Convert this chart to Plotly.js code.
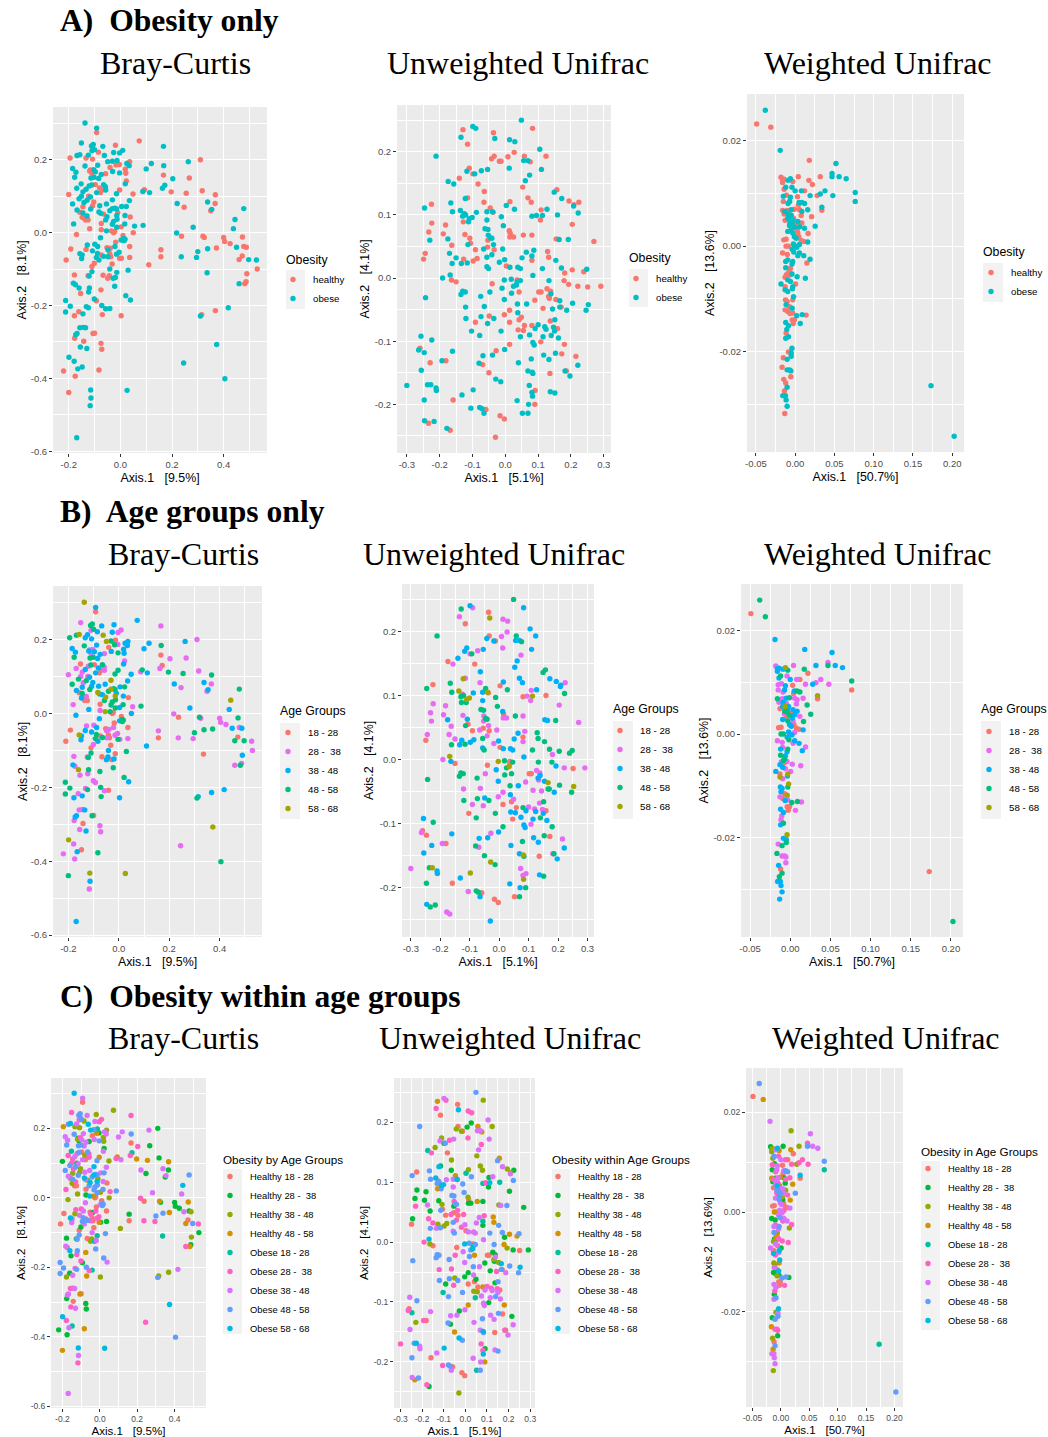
<!DOCTYPE html>
<html>
<head>
<meta charset="utf-8">
<script src="https://cdn.plot.ly/plotly-3.0.1.min.js"></script>
<style>html,body{margin:0;padding:0;background:#fff}#chart{width:1048px;height:1437px}</style>
</head>
<body>
<div id="chart"></div>
<script>
// Group codes: a-d = Healthy 18-28, 28-38, 38-48, 48-58; e-i = Obese 18-28, 28-38, 38-48, 48-58, 58-68
const brayCurtisPoints = [
[0.073,0.252,'c'],[0.167,0.237,'f'],[0.263,0.195,'g'],[0.31,0.2,'b'],[0.12,0.19,'g'],[0.168,0.184,'h'],[0.1,0.175,'g'],[0.167,0.158,'a'],[0.203,0.148,'f'],[0.267,0.15,'b'],
[0.172,0.13,'e'],[0.163,0.122,'f'],[0.093,0.118,'d'],[0.087,0.113,'f'],[0.113,0.11,'g'],[0.197,0.112,'d'],[0.255,0.108,'d'],[0.317,0.115,'b'],[0.368,0.104,'d'],[0.367,0.08,'b'],
[0.338,0.084,'g'],[0.354,0.064,'g'],[0.35,0.06,'b'],[0.22,0.08,'g'],[0.247,0.07,'b'],[0.478,0.066,'h'],[0.444,0.036,'i'],[0.438,0.011,'g'],[0.282,0.015,'g'],[0.088,0.02,'h'],
[0.055,0.018,'f'],[0.05,0.0,'c'],[0.038,0.043,'a'],[0.049,0.106,'c'],[0.218,-0.001,'f'],[0.237,-0.01,'a'],[0.32,-0.01,'d'],[0.325,-0.013,'b'],[0.4,-0.013,'b'],[0.404,-0.024,'b'],
[0.425,-0.03,'b'],[0.473,-0.012,'d'],[0.478,-0.038,'b'],[0.488,-0.04,'c'],[0.45,-0.04,'g'],[0.372,-0.042,'d'],[0.338,-0.044,'h'],[0.3,-0.052,'h'],[0.295,-0.068,'f'],[0.236,-0.066,'f'],
[0.157,-0.047,'b'],[0.157,-0.066,'a'],[0.11,-0.088,'c'],[0.472,-0.064,'a'],[0.46,-0.074,'d'],[0.497,-0.074,'h'],[0.527,-0.075,'f'],[0.53,-0.1,'b'],[0.49,-0.113,'c'],[0.336,-0.11,'e'],
[0.487,-0.135,'b'],[0.482,-0.14,'d'],[0.46,-0.14,'f'],[0.418,-0.206,'g'],[0.368,-0.214,'c'],[0.315,-0.225,'c'],[0.31,-0.229,'h'],[0.373,-0.307,'i'],[0.245,-0.358,'f'],[0.405,-0.401,'h'],
[0.026,-0.433,'i'],[-0.137,0.301,'i'],[-0.092,0.287,'g'],[-0.092,0.275,'a'],[-0.019,0.24,'c'],[-0.151,0.246,'f'],[-0.112,0.238,'h'],[-0.105,0.242,'h'],[-0.068,0.237,'g'],[0.009,0.226,'f'],
[-0.003,0.219,'f'],[-0.026,0.22,'g'],[-0.1,0.228,'h'],[-0.085,0.221,'c'],[-0.11,0.225,'f'],[-0.157,0.214,'i'],[-0.168,0.212,'h'],[-0.124,0.213,'g'],[-0.133,0.205,'c'],[-0.195,0.205,'d'],
[-0.062,0.212,'i'],[-0.108,0.202,'c'],[0.036,0.195,'c'],[0.025,0.19,'g'],[0.034,0.184,'g'],[-0.049,0.195,'i'],[-0.031,0.196,'h'],[-0.017,0.186,'d'],[-0.004,0.187,'b'],[-0.013,0.198,'e'],
[-0.185,0.176,'g'],[-0.088,0.185,'g'],[-0.04,0.179,'a'],[-0.172,0.166,'g'],[-0.137,0.183,'h'],[-0.116,0.172,'b'],[-0.103,0.173,'f'],[-0.097,0.167,'g'],[-0.074,0.16,'g'],[-0.177,0.152,'h'],
[-0.119,0.169,'c'],[-0.111,0.164,'b'],[-0.057,0.162,'b'],[-0.03,0.168,'g'],[0.019,0.174,'c'],[-0.003,0.164,'h'],[0.021,0.163,'c'],[-0.114,0.15,'h'],[-0.102,0.152,'h'],[-0.084,0.149,'g'],
[-0.152,0.134,'e'],[0.023,0.142,'b'],[0.019,0.134,'g'],[-0.121,0.128,'f'],[-0.111,0.131,'h'],[-0.097,0.132,'a'],[-0.065,0.132,'h'],[-0.058,0.126,'f'],[-0.169,0.122,'f'],[-0.081,0.123,'c'],
[-0.071,0.117,'a'],[-0.133,0.119,'g'],[-0.145,0.112,'f'],[-0.003,0.117,'d'],[-0.057,0.117,'f'],[-0.092,0.11,'g'],[-0.077,0.11,'a'],[-0.2,0.105,'b'],[-0.151,0.1,'f'],[-0.16,0.093,'h'],
[-0.123,0.1,'b'],[-0.116,0.098,'g'],[-0.015,0.107,'h'],[0.035,0.088,'g'],[-0.031,0.09,'i'],[-0.185,0.079,'h'],[-0.129,0.089,'h'],[-0.141,0.083,'f'],[-0.103,0.084,'c'],[-0.108,0.073,'c'],
[-0.08,0.074,'g'],[-0.054,0.079,'g'],[0.005,0.072,'g'],[0.023,0.072,'h'],[-0.168,0.062,'g'],[-0.145,0.071,'c'],[-0.115,0.065,'h'],[-0.021,0.067,'h'],[-0.031,0.066,'i'],[-0.015,0.065,'h'],
[-0.145,0.054,'h'],[-0.157,0.056,'a'],[-0.083,0.057,'i'],[-0.076,0.053,'g'],[-0.01,0.055,'c'],[-0.065,0.051,'c'],[-0.041,0.06,'h'],[0.018,0.047,'g'],[-0.052,0.044,'i'],[-0.014,0.047,'i'],
[-0.129,0.046,'f'],[-0.148,0.042,'c'],[-0.139,0.039,'a'],[-0.135,0.035,'a'],[-0.125,0.035,'a'],[-0.057,0.035,'h'],[-0.013,0.037,'h'],[-0.026,0.031,'h'],[-0.181,0.024,'f'],[-0.074,0.025,'a'],
[0.017,0.024,'h'],[-0.119,0.011,'c'],[-0.014,0.015,'h'],[-0.031,0.023,'h'],[0.003,0.016,'c'],[-0.074,0.008,'b'],[-0.054,0.005,'i'],[-0.035,0.005,'d'],[-0.026,0.0,'a'],[-0.022,0.003,'a'],
[-0.17,-0.005,'c'],[0.01,-0.008,'a'],[0.013,-0.016,'h'],[0.018,-0.018,'h'],[0.003,-0.02,'g'],[-0.018,-0.026,'a'],[-0.077,-0.014,'g'],[0.014,-0.022,'h'],[0.036,-0.038,'a'],[-0.128,-0.034,'f'],
[-0.099,-0.032,'f'],[-0.088,-0.038,'g'],[-0.021,-0.038,'f'],[-0.052,-0.041,'a'],[-0.039,-0.043,'b'],[-0.133,-0.046,'c'],[-0.192,-0.045,'a'],[-0.108,-0.05,'g'],[-0.089,-0.057,'h'],[-0.048,-0.047,'f'],
[-0.005,-0.054,'f'],[-0.015,-0.059,'f'],[-0.157,-0.058,'i'],[-0.148,-0.061,'g'],[-0.074,-0.061,'a'],[-0.048,-0.066,'f'],[-0.083,-0.075,'g'],[-0.093,-0.068,'h'],[-0.15,-0.071,'g'],[-0.065,-0.065,'h'],
[-0.21,-0.075,'a'],[-0.041,-0.058,'a'],[-0.037,-0.066,'a'],[-0.003,-0.07,'d'],[0.004,-0.07,'b'],[0.036,-0.068,'b'],[-0.032,-0.086,'a'],[-0.101,-0.084,'b'],[-0.11,-0.093,'a'],[-0.11,-0.107,'h'],
[-0.121,-0.119,'h'],[-0.041,-0.1,'g'],[0.03,-0.103,'h'],[-0.014,-0.109,'e'],[-0.125,-0.118,'b'],[-0.067,-0.117,'a'],[-0.043,-0.118,'c'],[-0.049,-0.125,'c'],[-0.178,-0.116,'b'],[-0.019,-0.123,'g'],
[-0.028,-0.125,'e'],[-0.182,-0.139,'g'],[-0.174,-0.143,'f'],[-0.16,-0.152,'i'],[-0.12,-0.152,'h'],[-0.075,-0.157,'d'],[-0.022,-0.147,'h'],[-0.123,-0.163,'f'],[-0.154,-0.167,'b'],[0.021,-0.173,'h'],
[0.039,-0.185,'g'],[-0.212,-0.186,'h'],[-0.101,-0.182,'f'],[-0.093,-0.187,'b'],[-0.194,-0.202,'h'],[-0.072,-0.2,'h'],[-0.132,-0.203,'f'],[-0.124,-0.206,'h'],[-0.057,-0.209,'f'],[-0.041,-0.208,'e'],
[-0.212,-0.218,'h'],[-0.161,-0.217,'b'],[-0.178,-0.228,'c'],[-0.145,-0.223,'g'],[-0.07,-0.225,'d'],[0.003,-0.228,'c'],[-0.157,-0.261,'f'],[-0.144,-0.26,'f'],[-0.135,-0.261,'g'],[-0.168,-0.277,'g'],
[-0.173,-0.28,'g'],[-0.177,-0.29,'b'],[-0.106,-0.277,'d'],[-0.1,-0.276,'a'],[-0.075,-0.304,'b'],[-0.072,-0.32,'b'],[-0.142,-0.298,'a'],[-0.155,-0.314,'f'],[-0.13,-0.318,'g'],[-0.199,-0.342,'i'],
[-0.179,-0.353,'f'],[-0.165,-0.374,'g'],[-0.148,-0.369,'e'],[-0.083,-0.377,'d'],[-0.22,-0.38,'b'],[-0.175,-0.394,'b'],[-0.2,-0.439,'d'],[-0.115,-0.432,'i'],[-0.114,-0.454,'g'],[-0.117,-0.475,'f'],
[-0.169,-0.563,'g']
];
const unweightedPoints = [
[0.049,0.25,'h'],[-0.099,0.24,'g'],[-0.09,0.237,'f'],[-0.129,0.235,'d'],[0.083,0.237,'c'],[-0.036,0.23,'a'],[-0.032,0.221,'i'],[-0.135,0.223,'f'],[-0.115,0.212,'a'],[0.013,0.219,'f'],
[0.029,0.216,'f'],[0.105,0.204,'g'],[-0.211,0.193,'h'],[0.027,0.199,'b'],[0.058,0.193,'d'],[0.124,0.193,'c'],[-0.034,0.193,'a'],[-0.042,0.189,'c'],[0.008,0.192,'b'],[-0.013,0.185,'a'],
[-0.018,0.185,'c'],[0.056,0.186,'g'],[0.069,0.186,'g'],[0.076,0.184,'d'],[0.012,0.174,'f'],[0.11,0.172,'g'],[-0.11,0.174,'c'],[-0.117,0.169,'g'],[-0.099,0.165,'b'],[-0.093,0.165,'h'],
[-0.073,0.17,'f'],[-0.054,0.172,'g'],[0.074,0.163,'f'],[-0.14,0.158,'c'],[0.061,0.154,'g'],[-0.174,0.153,'e'],[-0.157,0.149,'f'],[-0.083,0.149,'a'],[0.053,0.144,'c'],[-0.064,0.137,'c'],
[0.157,0.14,'d'],[0.149,0.136,'h'],[0.172,0.126,'g'],[0.069,0.127,'c'],[-0.115,0.127,'b'],[-0.122,0.126,'i'],[0.079,0.12,'c'],[0.014,0.121,'c'],[-0.065,0.12,'b'],[-0.166,0.119,'h'],
[-0.225,0.117,'a'],[0.194,0.122,'c'],[0.209,0.116,'c'],[0.224,0.12,'b'],[0.208,0.114,'g'],[0.003,0.115,'e'],[-0.246,0.111,'h'],[-0.161,0.105,'h'],[-0.137,0.107,'i'],[-0.125,0.102,'f'],
[-0.13,0.098,'h'],[-0.121,0.1,'h'],[-0.088,0.104,'g'],[-0.056,0.105,'g'],[-0.039,0.105,'i'],[-0.037,0.104,'a'],[-0.046,0.111,'d'],[-0.012,0.097,'h'],[-0.101,0.096,'i'],[-0.11,0.094,'i'],
[-0.112,0.089,'h'],[-0.128,0.089,'d'],[0.028,0.109,'h'],[0.109,0.108,'b'],[0.127,0.109,'g'],[0.081,0.098,'e'],[0.095,0.099,'f'],[0.113,0.099,'i'],[0.159,0.1,'e'],[0.107,0.092,'b'],
[0.222,0.103,'h'],[0.204,0.085,'b'],[-0.006,0.083,'h'],[-0.062,0.078,'h'],[-0.053,0.077,'h'],[-0.056,0.092,'g'],[-0.182,0.084,'b'],[-0.224,0.087,'b'],[0.012,0.075,'c'],[0.015,0.071,'a'],
[-0.233,0.073,'b'],[-0.189,0.07,'b'],[-0.123,0.069,'b'],[0.055,0.068,'d'],[0.081,0.068,'b'],[-0.052,0.068,'f'],[-0.046,0.064,'h'],[-0.041,0.063,'h'],[0.014,0.065,'b'],[0.025,0.065,'b'],
[-0.108,0.063,'c'],[-0.053,0.06,'b'],[-0.175,0.062,'g'],[-0.23,0.06,'f'],[0.164,0.061,'g'],[0.155,0.062,'c'],[0.192,0.061,'h'],[0.27,0.058,'b'],[-0.106,0.055,'a'],[-0.114,0.053,'h'],
[-0.163,0.052,'b'],[-0.036,0.053,'f'],[-0.091,0.045,'a'],[-0.034,0.045,'a'],[-0.054,0.049,'a'],[-0.008,0.046,'f'],[-0.066,0.046,'f'],[-0.17,0.039,'f'],[-0.244,0.039,'b'],[0.064,0.041,'g'],
[0.129,0.042,'d'],[0.087,0.044,'f'],[-0.041,0.037,'f'],[-0.056,0.033,'h'],[0.081,0.035,'e'],[0.051,0.032,'g'],[-0.249,0.03,'a'],[0.132,0.033,'d'],[0.081,0.028,'b'],[0.154,0.028,'h'],
[-0.15,0.032,'f'],[-0.127,0.03,'c'],[-0.162,0.023,'h'],[-0.134,0.023,'g'],[-0.116,0.024,'h'],[-0.098,0.027,'c'],[-0.086,0.031,'c'],[-0.018,0.025,'f'],[-0.002,0.029,'g'],[0.003,0.019,'a'],
[0.014,0.017,'g'],[0.038,0.017,'g'],[0.046,0.015,'g'],[-0.056,0.018,'g'],[-0.051,0.015,'h'],[0.113,0.015,'h'],[0.171,0.016,'h'],[0.204,0.013,'d'],[0.248,0.014,'h'],[0.239,0.01,'d'],
[0.181,0.008,'b'],[0.084,0.004,'g'],[-0.168,0.005,'i'],[-0.191,0.0,'f'],[-0.164,-0.003,'c'],[-0.15,-0.006,'a'],[0.133,-0.004,'h'],[-0.003,-0.003,'i'],[0.036,-0.003,'a'],[0.018,-0.002,'h'],
[0.046,-0.004,'h'],[0.036,-0.006,'e'],[0.025,-0.013,'h'],[0.034,-0.011,'i'],[0.179,-0.004,'d'],[0.193,-0.01,'c'],[0.221,-0.013,'b'],[0.251,-0.014,'a'],[0.291,-0.013,'b'],[-0.04,-0.009,'a'],
[-0.243,-0.031,'h'],[-0.01,-0.016,'g'],[-0.13,-0.021,'h'],[-0.122,-0.022,'h'],[-0.135,-0.026,'h'],[0.019,-0.024,'h'],[0.042,-0.022,'d'],[0.102,-0.022,'a'],[0.109,-0.022,'a'],[0.127,-0.017,'b'],
[0.138,-0.021,'b'],[0.132,-0.029,'c'],[0.134,-0.032,'b'],[0.139,-0.025,'g'],[0.154,-0.034,'c'],[-0.047,-0.022,'f'],[-0.075,-0.029,'h'],[-0.003,-0.034,'g'],[0.166,-0.036,'i'],[0.166,-0.046,'h'],
[0.17,-0.046,'d'],[0.205,-0.04,'h'],[0.037,-0.041,'h'],[0.065,-0.041,'g'],[0.09,-0.035,'b'],[0.253,-0.042,'i'],[0.246,-0.051,'h'],[0.144,-0.049,'f'],[0.187,-0.051,'g'],[0.115,-0.048,'b'],
[-0.121,-0.046,'f'],[-0.064,-0.045,'f'],[-0.12,-0.064,'h'],[-0.074,-0.061,'h'],[-0.035,-0.064,'h'],[-0.049,-0.06,'c'],[-0.054,-0.072,'f'],[-0.091,-0.07,'b'],[-0.003,-0.058,'b'],[0.013,-0.051,'b'],
[0.038,-0.055,'g'],[0.013,-0.07,'a'],[0.049,-0.062,'b'],[0.042,-0.066,'a'],[0.058,-0.075,'a'],[0.039,-0.082,'c'],[0.055,-0.083,'c'],[0.081,-0.075,'d'],[0.1,-0.074,'f'],[0.12,-0.077,'f'],
[0.124,-0.081,'g'],[0.137,-0.068,'b'],[0.151,-0.066,'h'],[0.147,-0.078,'f'],[0.159,-0.08,'a'],[0.15,-0.084,'g'],[0.14,-0.091,'h'],[0.091,-0.08,'g'],[0.046,-0.093,'e'],[0.074,-0.09,'g'],
[0.115,-0.093,'g'],[0.162,-0.095,'g'],[-0.013,-0.084,'h'],[-0.103,-0.084,'e'],[-0.078,-0.091,'h'],[-0.257,-0.092,'g'],[-0.224,-0.098,'h'],[0.108,-0.101,'b'],[0.084,-0.102,'g'],[0.088,-0.106,'g'],
[0.18,-0.105,'d'],[0.013,-0.105,'d'],[-0.26,-0.111,'a'],[-0.264,-0.114,'f'],[-0.247,-0.118,'e'],[-0.161,-0.116,'g'],[-0.028,-0.115,'b'],[-0.002,-0.113,'g'],[-0.068,-0.123,'g'],[-0.039,-0.122,'g'],
[0.117,-0.122,'g'],[0.172,-0.12,'a'],[0.153,-0.119,'h'],[0.133,-0.129,'g'],[0.079,-0.128,'h'],[0.215,-0.124,'b'],[-0.193,-0.131,'f'],[-0.181,-0.131,'a'],[-0.229,-0.134,'c'],[-0.08,-0.135,'h'],
[-0.069,-0.137,'b'],[0.04,-0.134,'g'],[0.221,-0.138,'g'],[-0.256,-0.146,'g'],[0.069,-0.147,'g'],[0.082,-0.149,'i'],[0.084,-0.151,'h'],[0.136,-0.151,'a'],[0.182,-0.147,'f'],[0.186,-0.147,'d'],
[0.197,-0.155,'g'],[-0.05,-0.15,'d'],[-0.029,-0.16,'i'],[-0.014,-0.164,'h'],[-0.3,-0.17,'f'],[-0.237,-0.169,'h'],[-0.227,-0.169,'i'],[-0.211,-0.174,'g'],[-0.21,-0.178,'g'],[0.073,-0.17,'f'],
[-0.098,-0.177,'i'],[0.091,-0.178,'b'],[0.081,-0.181,'f'],[0.083,-0.187,'i'],[0.137,-0.18,'g'],[0.151,-0.182,'h'],[-0.132,-0.185,'g'],[-0.159,-0.193,'a'],[-0.247,-0.193,'h'],[0.036,-0.194,'g'],
[0.09,-0.2,'d'],[0.071,-0.2,'g'],[-0.078,-0.205,'h'],[-0.105,-0.206,'f'],[-0.071,-0.207,'h'],[-0.059,-0.208,'a'],[-0.065,-0.214,'g'],[0.052,-0.214,'e'],[0.069,-0.214,'h'],[-0.016,-0.218,'a'],
[-0.003,-0.223,'a'],[-0.246,-0.226,'g'],[-0.217,-0.227,'h'],[-0.234,-0.23,'d'],[-0.178,-0.238,'f'],[-0.168,-0.241,'b'],[-0.03,-0.252,'c']
];
const weightedPoints = [
[-0.049,0.0232,'a'],[-0.038,0.0258,'h'],[-0.031,0.0226,'d'],[-0.019,0.0182,'g'],[0.018,0.0163,'c'],[0.052,0.0157,'g'],[0.047,0.0138,'f'],[0.047,0.0132,'h'],[0.056,0.0132,'g'],[0.065,0.0128,'g'],
[0.032,0.0132,'c'],[0.0175,0.0125,'d'],[0.022,0.0117,'a'],[0.004,0.0132,'b'],[-0.018,0.0131,'b'],[-0.016,0.0126,'c'],[-0.016,0.0121,'c'],[-0.014,0.0127,'c'],[-0.009,0.0125,'g'],[-0.006,0.0128,'i'],
[-0.003,0.0123,'d'],[-0.012,0.0112,'h'],[-0.014,0.0108,'c'],[-0.004,0.0112,'f'],[0.0,0.0105,'g'],[0.0765,0.0102,'h'],[0.0765,0.0085,'e'],[0.038,0.0105,'f'],[0.032,0.0099,'f'],[0.028,0.0096,'c'],
[0.048,0.0096,'f'],[0.019,0.0096,'f'],[0.008,0.0105,'f'],[0.012,0.0105,'a'],[0.003,0.0094,'a'],[-0.011,0.0097,'b'],[-0.015,0.0095,'f'],[-0.006,0.0093,'g'],[-0.015,0.0085,'b'],[-0.007,0.0085,'g'],
[-0.009,0.0081,'f'],[0.005,0.0083,'g'],[0.0085,0.0083,'h'],[0.012,0.0081,'h'],[0.004,0.0078,'a'],[0.034,0.0074,'i'],[0.034,0.0068,'a'],[0.016,0.0069,'f'],[-0.016,0.0068,'d'],[-0.013,0.0066,'f'],
[-0.01,0.0068,'b'],[-0.005,0.0069,'g'],[-0.001,0.007,'d'],[0.0055,0.0069,'b'],[0.0085,0.0066,'f'],[-0.009,0.0061,'g'],[-0.014,0.0061,'b'],[-0.005,0.0059,'f'],[0.0077,0.0058,'b'],[0.021,0.0056,'d'],
[-0.0094,0.0053,'g'],[-0.0064,0.0053,'i'],[-0.0021,0.0053,'c'],[-0.0128,0.0049,'a'],[-0.003,0.0049,'g'],[0.0034,0.0047,'g'],[0.0085,0.0044,'c'],[-0.0068,0.0044,'h'],[-0.0038,0.0042,'h'],[0.0013,0.0041,'a'],
[0.0255,0.0038,'h'],[-0.0072,0.0039,'f'],[-0.0009,0.0036,'h'],[0.0055,0.0037,'g'],[0.0119,0.0034,'f'],[0.0026,0.0031,'c'],[-0.0051,0.0031,'e'],[-0.0094,0.0028,'g'],[-0.003,0.0025,'h'],[0.0034,0.0025,'b'],
[0.0165,0.0024,'d'],[-0.0009,0.0018,'g'],[0.0047,0.0018,'a'],[-0.0115,0.0013,'a'],[-0.0145,0.0012,'a'],[0.0013,0.0015,'g'],[0.0077,0.0011,'a'],[0.011,0.0009,'a'],[0.016,0.0008,'g'],[-0.0021,0.0004,'g'],
[-0.0115,0.0,'d'],[-0.0085,0.0,'d'],[-0.0009,0.0001,'f'],[0.0055,0.0003,'f'],[0.0021,-0.0002,'g'],[-0.0038,-0.0006,'g'],[-0.016,-0.0013,'b'],[-0.01,-0.0016,'b'],[-0.0017,-0.0011,'h'],[0.0055,-0.0013,'g'],
[0.0034,-0.0018,'f'],[0.011,-0.0018,'g'],[0.019,-0.0025,'f'],[0.015,-0.0032,'c'],[-0.012,-0.0029,'g'],[-0.003,-0.0029,'h'],[-0.0094,-0.0026,'f'],[-0.004,-0.0034,'g'],[-0.012,-0.0041,'h'],[-0.006,-0.0042,'c'],
[-0.007,-0.0048,'d'],[-0.004,-0.0053,'f'],[-0.0111,-0.0054,'b'],[-0.0085,-0.0051,'d'],[-0.0068,-0.0055,'a'],[-0.0128,-0.0059,'c'],[0.0025,-0.0058,'f'],[0.013,-0.0061,'f'],[-0.0094,-0.0064,'g'],[-0.006,-0.0067,'f'],
[-0.018,-0.0072,'g'],[0.0005,-0.0072,'b'],[-0.0128,-0.0077,'a'],[-0.003,-0.0077,'i'],[-0.0034,-0.0081,'g'],[-0.0128,-0.0083,'i'],[-0.0094,-0.0086,'f'],[-0.002,-0.0096,'i'],[-0.0123,-0.0102,'c'],[-0.0102,-0.0105,'c'],
[-0.003,-0.0102,'d'],[-0.0115,-0.0111,'g'],[-0.0072,-0.0115,'a'],[-0.0128,-0.0121,'b'],[-0.0038,-0.0118,'i'],[-0.0094,-0.0124,'a'],[-0.003,-0.0127,'b'],[-0.0064,-0.0128,'c'],[0.002,-0.0132,'h'],[0.009,-0.013,'h'],
[0.014,-0.0131,'b'],[-0.012,-0.0145,'g'],[-0.0038,-0.014,'a'],[-0.0009,-0.014,'a'],[-0.0025,-0.0147,'a'],[0.0065,-0.0147,'f'],[-0.0085,-0.0151,'g'],[-0.0106,-0.0158,'f'],[-0.0115,-0.0165,'b'],[-0.0085,-0.0172,'h'],
[-0.012,-0.0175,'g'],[-0.004,-0.0194,'i'],[-0.0085,-0.0201,'c'],[-0.005,-0.0203,'g'],[-0.005,-0.0209,'h'],[-0.015,-0.0212,'b'],[-0.0102,-0.0215,'h'],[-0.0166,-0.023,'d'],[-0.0102,-0.0235,'f'],[-0.007,-0.0235,'f'],
[-0.0055,-0.0237,'f'],[-0.0055,-0.0248,'b'],[-0.0145,-0.0253,'c'],[-0.012,-0.026,'a'],[-0.0102,-0.0268,'h'],[-0.0136,-0.0275,'d'],[-0.0157,-0.0284,'g'],[-0.0123,-0.0284,'g'],[-0.0115,-0.0292,'g'],[-0.0102,-0.0304,'g'],
[-0.0132,-0.0318,'c'],[0.173,-0.0265,'e'],[0.2025,-0.0361,'h']
];

const obesityNames = ['healthy', 'obese'];
const ageNames = ['18 - 28', '28 -\u00A0 38', '38 - 48', '48 - 58', '58 - 68'];
const comboNames = ['Healthy 18 - 28', 'Healthy 28 -\u00A0 38', 'Healthy 38 - 48', 'Healthy 48 - 58', 'Obese 18 - 28', 'Obese 28 -\u00A0 38', 'Obese 38 - 48', 'Obese 48 - 58', 'Obese 58 - 68'];
const obesityColors = ['#F8766D', '#00BFC4'];
const ageColors = ['#F8766D', '#E76BF3', '#00B0F6', '#00BF7D', '#A3A500'];
const comboColors = ['#F8766D', '#00BA38', '#93AA00', '#D39200', '#00C19F', '#FF61C3', '#DB72FB', '#619CFF', '#00B9E3'];
const obesityMembers = ['abcd', 'efghi'];
const ageMembers = ['ae', 'bf', 'cg', 'dh', 'i'];
const comboMembers = ['a', 'b', 'c', 'd', 'e', 'f', 'g', 'h', 'i'];

const bcXTicks = [-0.2, 0, 0.2, 0.4], bcXLabels = ['-0.2', '0.0', '0.2', '0.4'];
const bcXMinor = [-0.1, 0.1, 0.3, 0.5];
const bcYTicks = [-0.6, -0.4, -0.2, 0, 0.2], bcYLabels = ['-0.6', '-0.4', '-0.2', '0.0', '0.2'];
const bcYMinor = [-0.5, -0.3, -0.1, 0.1, 0.3];
const uwXTicks = [-0.3, -0.2, -0.1, 0, 0.1, 0.2, 0.3], uwXLabels = ['-0.3', '-0.2', '-0.1', '0.0', '0.1', '0.2', '0.3'];
const uwXMinor = [-0.25, -0.15, -0.05, 0.05, 0.15, 0.25];
const uwYTicks = [-0.2, -0.1, 0, 0.1, 0.2], uwYLabels = ['-0.2', '-0.1', '0.0', '0.1', '0.2'];
const uwYMinor = [-0.25, -0.15, -0.05, 0.05, 0.15, 0.25];
const wXTicks = [-0.05, 0, 0.05, 0.1, 0.15, 0.2], wXLabels = ['-0.05', '0.00', '0.05', '0.10', '0.15', '0.20'];
const wXMinor = [-0.025, 0.025, 0.075, 0.125, 0.175];
const wYTicks = [-0.02, 0, 0.02], wYLabels = ['-0.02', '0.00', '0.02'];
const wYMinor = [-0.03, -0.01, 0.01];

const W = 1048, H = 1437;
const fx = p => p / W, fy = p => 1 - p / H;
const SANS = '"Liberation Sans", Arial, sans-serif', SERIF = '"Liberation Serif", "Times New Roman", serif';

const ordinations = {
  bc: {pts: brayCurtisPoints, xr: [-0.261, 0.568], yr: [-0.605, 0.345], xt: bcXTicks, xl: bcXLabels, xm: bcXMinor, yt: bcYTicks, yl: bcYLabels, ym: bcYMinor, xTitle: 'Axis.1\u00A0\u00A0 [9.5%]', yTitle: 'Axis.2\u00A0\u00A0 [8.1%]'},
  uw: {pts: unweightedPoints, xr: [-0.33, 0.322], yr: [-0.277, 0.274], xt: uwXTicks, xl: uwXLabels, xm: uwXMinor, yt: uwYTicks, yl: uwYLabels, ym: uwYMinor, xTitle: 'Axis.1\u00A0\u00A0 [5.1%]', yTitle: 'Axis.2\u00A0\u00A0 [4.1%]'},
  w: {pts: weightedPoints, xr: [-0.0613, 0.215], yr: [-0.0391, 0.0289], xt: wXTicks, xl: wXLabels, xm: wXMinor, yt: wYTicks, yl: wYLabels, ym: wYMinor, xTitle: 'Axis.1\u00A0\u00A0 [50.7%]', yTitle: 'Axis.2\u00A0\u00A0 [13.6%]'}
};
const schemes = {
  A: {names: obesityNames, colors: obesityColors, members: obesityMembers},
  B: {names: ageNames, colors: ageColors, members: ageMembers},
  C: {names: comboNames, colors: comboColors, members: comboMembers}
};
const panels = [
  {o: 'bc', s: 'A', box: [53, 267, 107, 453], legend: [293, 276], key: [286, 305, 270, 309], lt: 'Obesity', ltp: [284, 260], fs: 9.5, lf: 9.7, tf: 12.3, af: 12.4, ys: 1},
  {o: 'uw', s: 'A', box: [397, 611, 105, 453], legend: [636, 275], key: [629, 648, 269, 307], lt: 'Obesity', ltp: [627, 258], fs: 9.5, lf: 9.7, tf: 12.3, af: 12.4, ys: 2},
  {o: 'w', s: 'A', box: [747, 964, 94, 452], legend: [991, 269], key: [983, 1003, 263, 302], lt: 'Obesity', ltp: [981, 252], fs: 9.5, lf: 9.7, tf: 12.3, af: 12.4, ys: 2},
  {o: 'bc', s: 'B', box: [53, 262, 586, 937], legend: [288, 729], key: [280, 300, 723, 819], lt: 'Age Groups', ltp: [278, 711], fs: 9.5, lf: 9.7, tf: 12.3, af: 12.4, ys: 0},
  {o: 'uw', s: 'B', box: [402, 594, 584, 937], legend: [620, 727], key: [613, 633, 721, 819], lt: 'Age Groups', ltp: [611, 709], fs: 9.5, lf: 9.7, tf: 12.3, af: 12.4, ys: 3},
  {o: 'w', s: 'B', box: [741, 963, 584, 937], legend: [989, 728], key: [981, 1001, 721, 819], lt: 'Age Groups', ltp: [979, 709], fs: 9.5, lf: 9.7, tf: 12.3, af: 12.4, ys: 2},
  {o: 'bc', s: 'C', box: [51, 206, 1078, 1408], legend: [230, 1173], key: [223, 242, 1169, 1334], lt: 'Obesity by Age Groups', ltp: [221, 1159], fs: 8.5, lf: 9.4, tf: 11.7, af: 11.6, ys: 2},
  {o: 'uw', s: 'C', box: [394, 535, 1078, 1408], legend: [558, 1173], key: [552, 570, 1169, 1334], lt: 'Obesity within Age Groups', ltp: [550, 1159], fs: 8.5, lf: 9.4, tf: 11.7, af: 11.6, ys: 2},
  {o: 'w', s: 'C', box: [746, 903, 1068, 1407], legend: [928, 1165], key: [921, 940, 1161, 1330], lt: 'Obesity in Age Groups', ltp: [919, 1151], fs: 8.5, lf: 9.4, tf: 11.7, af: 11.6, ys: 5}
];

const headings = [
  {t: 'A)\u00A0 Obesity only', x: 58, y: 21}, {t: 'B)\u00A0 Age groups only', x: 58, y: 512}, {t: 'C)\u00A0 Obesity within age groups', x: 58, y: 996}
];
const subtitles = [
  {t: 'Bray-Curtis', x: 175, y: 63}, {t: 'Unweighted Unifrac', x: 518, y: 63}, {t: 'Weighted Unifrac', x: 878, y: 63},
  {t: 'Bray-Curtis', x: 183, y: 554}, {t: 'Unweighted Unifrac', x: 494, y: 554}, {t: 'Weighted Unifrac', x: 878, y: 554},
  {t: 'Bray-Curtis', x: 183, y: 1038}, {t: 'Unweighted Unifrac', x: 510, y: 1038}, {t: 'Weighted Unifrac', x: 886, y: 1038}
];

const traces = [];
const layout = {
  width: W, height: H, margin: {l: 0, r: 0, t: 0, b: 0}, paper_bgcolor: '#fff', plot_bgcolor: '#EBEBEB',
  font: {family: SANS, color: '#000'}, hovermode: 'closest', shapes: [], annotations: []
};

panels.forEach((p, i) => {
  const n = i + 1, suffix = n === 1 ? '' : String(n);
  const ord = ordinations[p.o], sch = schemes[p.s];
  const legendId = 'legend' + suffix;
  sch.names.forEach((name, g) => {
    const pts = ord.pts.filter(d => sch.members[g].includes(d[2]));
    traces.push({
      type: 'scatter', mode: 'markers', name: name, x: pts.map(d => d[0]), y: pts.map(d => d[1]),
      xaxis: 'x' + suffix, yaxis: 'y' + suffix, legend: legendId, showlegend: true,
      marker: {color: sch.colors[g], size: 5.4, line: {width: 0}}
    });
  });
  const axisBase = {
    showline: false, zeroline: false, showgrid: true, gridcolor: '#FFFFFF', gridwidth: 1.1, ticks: 'outside', ticklen: 3, tickwidth: 1, tickcolor: '#333333',
    tickfont: {size: p.fs, color: '#4D4D4D', family: SANS}, tickangle: 0, tickmode: 'array', automargin: false, layer: 'below traces'
  };
  layout['xaxis' + suffix] = Object.assign({}, axisBase, {
    domain: [fx(p.box[0]), fx(p.box[1])], range: ord.xr, anchor: 'y' + suffix, tickvals: ord.xt, ticktext: ord.xl,
    minor: {tickmode: 'array', tickvals: ord.xm, showgrid: true, gridcolor: '#FFFFFF', gridwidth: 0.5, ticks: ''},
    title: {text: ord.xTitle, font: {size: p.af, color: '#000', family: SANS}, standoff: 3}
  });
  layout['yaxis' + suffix] = Object.assign({}, axisBase, {
    domain: [fy(p.box[3]), fy(p.box[2])], range: ord.yr, anchor: 'x' + suffix, tickvals: ord.yt, ticktext: ord.yl,
    minor: {tickmode: 'array', tickvals: ord.ym, showgrid: true, gridcolor: '#FFFFFF', gridwidth: 0.5, ticks: ''},
    title: {text: ord.yTitle, font: {size: p.af, color: '#000', family: SANS}, standoff: p.ys}
  });
  layout[legendId] = {
    x: fx(p.legend[0] - 20), xanchor: 'left', y: fy(p.legend[1] - 11), yanchor: 'top',
    bgcolor: 'rgba(0,0,0,0)', borderwidth: 0, itemsizing: 'trace', traceorder: 'normal', itemclick: false, itemdoubleclick: false,
    font: {size: p.lf, color: '#000', family: SANS}
  };
  layout.shapes.push({type: 'rect', xref: 'paper', yref: 'paper', layer: 'below', x0: fx(p.key[0]), x1: fx(p.key[1]), y0: fy(p.key[3]), y1: fy(p.key[2]), fillcolor: '#F2F2F2', line: {width: 0}});
  layout.annotations.push({xref: 'paper', yref: 'paper', x: fx(p.ltp[0]), y: fy(p.ltp[1]), xanchor: 'left', yanchor: 'middle', showarrow: false, text: p.lt, font: {size: p.tf, color: '#000', family: SANS}});
});

headings.forEach(h => layout.annotations.push({xref: 'paper', yref: 'paper', x: fx(h.x), y: fy(h.y), xanchor: 'left', yanchor: 'middle', showarrow: false, text: '<b>' + h.t + '</b>', font: {size: 31.6, color: '#000', family: SERIF}}));
subtitles.forEach(s => layout.annotations.push({xref: 'paper', yref: 'paper', x: fx(s.x), y: fy(s.y), xanchor: 'center', yanchor: 'middle', showarrow: false, text: s.t, font: {size: 32, color: '#000', family: SERIF}}));

Plotly.newPlot('chart', traces, layout, {displayModeBar: false, responsive: false, staticPlot: false});
</script>
</body>
</html>
